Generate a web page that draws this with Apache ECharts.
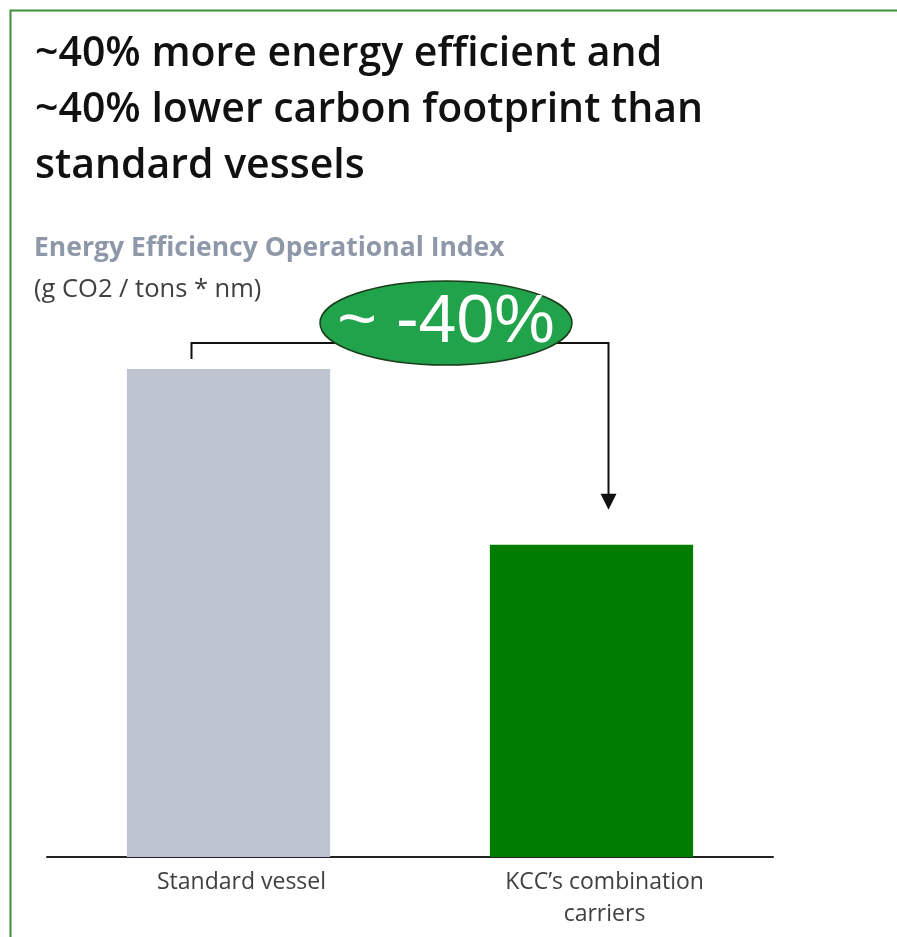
<!DOCTYPE html>
<html>
<head>
<meta charset="utf-8">
<script src="https://cdn.jsdelivr.net/npm/echarts@6/dist/echarts.min.js"></script>
<style>
html,body{margin:0;padding:0;background:#fff;}
#chart{width:897px;height:937px;}
</style>
</head>
<body>
<div id="chart"></div>
<script>
// ---- data ----
var categories = ['Standard vessel', 'KCC\u2019s combination\ncarriers'];
var values = [10, 6.4];
var titleLines = ['~40% more energy efficient and', '~40% lower carbon footprint than', 'standard vessels'];
var axisTitle = 'Energy Efficiency Operational Index';
var axisUnit = '(g CO2 / tons * nm)';
var badgeText = '~ -40%';

var chart = echarts.init(document.getElementById('chart'));
var option = {
  animation: false,
  backgroundColor: '#ffffff',
  title: [
    { text: titleLines.join('\n'), left: 30, top: 21,
      textStyle: { fontFamily: 'Open Sans', fontWeight: 600, fontSize: 41, lineHeight: 56, color: '#111' } },
    { text: axisTitle, left: 29, top: 230,
      textStyle: { fontFamily: 'Open Sans', fontWeight: 700, fontSize: 26.5, color: '#8e98a8' } },
    { text: axisUnit, left: 29, top: 272,
      textStyle: { fontFamily: 'Open Sans', fontWeight: 400, fontSize: 25.5, color: '#404040' } }
  ],
  grid: { left: 47, right: 124, top: 271.4, bottom: 80, containLabel: false },
  xAxis: {
    type: 'category', data: categories,
    axisLine: { lineStyle: { color: '#222', width: 2 } },
    axisTick: { show: false },
    axisLabel: { fontFamily: 'Open Sans', fontSize: 23, color: '#404040', lineHeight: 32, margin: 9, padding: [0,0,0,26] }
  },
  yAxis: { type: 'value', min: 0, max: 12, show: false, splitLine: { show: false } },
  series: [{
    type: 'bar', barWidth: '56%',
    data: [
      { value: values[0], itemStyle: { color: '#bec4d0' } },
      { value: values[1], itemStyle: { color: '#007d00' } }
    ]
  }]
};
chart.setOption(option);

// annotation positioned from the data scale
var p0 = chart.convertToPixel({ gridIndex: 0 }, [0, values[0]]);
var p1 = chart.convertToPixel({ gridIndex: 0 }, [1, values[1]]);
var lx = p0[0] - 37, rx = p1[0] + 17;
var hy = p0[1] - 26;
var tipY = p1[1] - 35;
var cx = (lx + rx) / 2 + 46, cy = hy - 20;
chart.setOption({
  graphic: [
    { type: 'rect', left: 8, top: 8, shape: { x: 0, y: 0, width: 900, height: 940 }, style: { fill: 'none', stroke: '#3b8f3b', lineWidth: 2 }, z: 100, silent: true },
    { type: 'polyline', shape: { points: [[lx, hy + 16], [lx, hy], [rx, hy], [rx, tipY - 14]] }, style: { stroke: '#111', lineWidth: 2, fill: null }, z: 50 },
    { type: 'polygon', shape: { points: [[rx - 8, tipY - 16], [rx + 8, tipY - 16], [rx, tipY]] }, style: { fill: '#111' }, z: 50 },
    { type: 'ellipse', shape: { cx: cx, cy: cy, rx: 126, ry: 42 }, style: { fill: '#20a34b', stroke: '#1b3d1b', lineWidth: 1.5 }, z: 60 },
    { type: 'text', x: cx, y: cy, style: { text: badgeText, fill: '#ffffff', font: '68px "Liberation Sans"', align: 'center', verticalAlign: 'middle' }, z: 70 }
  ]
});
</script>
</body>
</html>
